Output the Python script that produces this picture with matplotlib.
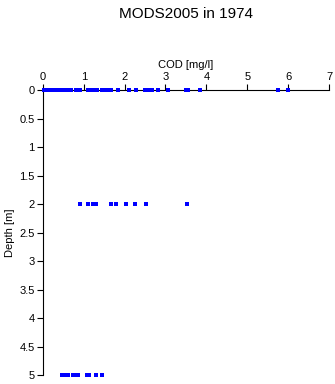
import numpy as np
import matplotlib
matplotlib.use('Agg')
import matplotlib.pyplot as plt

plt.rcParams['font.family'] = ['Liberation Sans', 'DejaVu Sans']

# COD samples per depth level
cod_surface = [0.02, 0.06, 0.1, 0.14, 0.18, 0.22, 0.26, 0.3, 0.34, 0.38, 0.42,
               0.46, 0.5, 0.55, 0.6, 0.65, 0.7, 0.8, 0.9, 1.1, 1.15, 1.2, 1.27,
               1.33, 1.45, 1.5, 1.55, 1.6, 1.66, 1.84, 2.1, 2.27, 2.5, 2.55,
               2.6, 2.68, 2.82, 3.06, 3.5, 3.54, 3.85, 5.76, 6.0]
cod_2m = [0.9, 1.1, 1.22, 1.3, 1.66, 1.8, 2.03, 2.25, 2.52, 3.52]
cod_5m = [0.48, 0.55, 0.62, 0.73, 0.82, 0.85, 1.07, 1.12, 1.3, 1.44]
depths = [0, 2, 5]

fig = plt.figure(figsize=(3.35, 3.84), dpi=100)
ax = fig.add_axes([0.128, 0.0234, 0.854, 0.742])

for d, vals in zip(depths, [cod_surface, cod_2m, cod_5m]):
    ax.plot(vals, np.full(len(vals), d), 's', color='#0000ff', ms=2.3,
            mew=0, clip_on=False, zorder=3)

ax.set_xlim(0, 7)
ax.set_ylim(5, 0)
ax.set_xticks(range(8))
ax.set_yticks(np.arange(0, 5.01, 0.5))
ax.set_yticklabels(['0', '0.5', '1', '1.5', '2', '2.5', '3', '3.5', '4', '4.5', '5'])
ax.xaxis.tick_top()
ax.xaxis.set_label_position('top')
ax.spines['right'].set_visible(False)
ax.spines['bottom'].set_visible(False)
ax.tick_params(labelsize=8, length=4, width=0.8, pad=2)
ax.set_xlabel('COD [mg/l]', fontsize=8, labelpad=3)
ax.set_ylabel('Depth [m]', fontsize=8, labelpad=3)
ax.set_title('MODS2005 in 1974', fontsize=11, pad=52)

fig.savefig('out.png', dpi=100)
